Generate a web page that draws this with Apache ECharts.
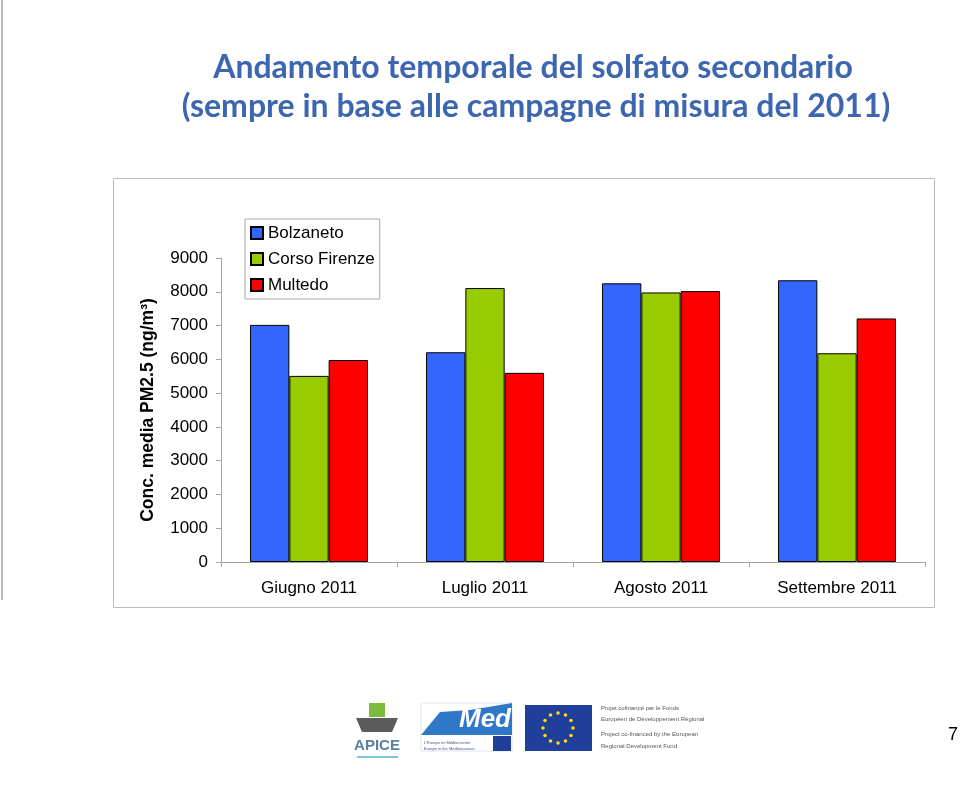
<!DOCTYPE html>
<html>
<head>
<meta charset="utf-8">
<script src="https://cdn.jsdelivr.net/npm/echarts@6/dist/echarts.min.js"></script>
<style>
html,body{margin:0;padding:0;background:#fff;}
#chart{width:960px;height:787px;}
</style>
</head>
<body>
<div id="chart"></div>
<script>
const titleLines = ['Andamento temporale del solfato secondario', '(sempre in base alle campagne di misura del 2011)'];
const categories = ['Giugno 2011', 'Luglio 2011', 'Agosto 2011', 'Settembre 2011'];
const seriesNames = ['Bolzaneto', 'Corso Firenze', 'Multedo'];
const bolzaneto = [7020, 6210, 8250, 8340];
const corsoFirenze = [5510, 8110, 7980, 6180];
const multedo = [5980, 5600, 8020, 7210];
const seriesColors = ['#3366ff', '#99cc00', '#ff0000'];
const yAxisName = 'Conc. media PM2.5 (ng/m\u00B3)';
const yMin = 0, yMax = 9000, yStep = 1000;
const pageNumber = '7';

const chart = echarts.init(document.getElementById('chart'));
const dataSets = [bolzaneto, corsoFirenze, multedo];

// EU flag stars
const stars = [];
for (let i = 0; i < 12; i++) {
  const a = i / 12 * Math.PI * 2;
  stars.push({type:'circle', shape:{cx:558 + 15*Math.cos(a), cy:728 + 15*Math.sin(a), r:1.8}, style:{fill:'#ffdd00'}});
}

const font = '"Liberation Sans", Arial';

chart.setOption({
  animation: false,
  backgroundColor: '#fff',
  graphic: [
    {type:'line', shape:{x1:2, y1:0, x2:2, y2:600}, style:{stroke:'#a0a0a0', lineWidth:1.5}},
    {type:'rect', shape:{x:113.5, y:178.5, width:821, height:429}, style:{fill:'none', stroke:'#bdbdbd', lineWidth:1}, z:-1},
    {type:'text', x:533, y:68, style:{text:titleLines[0], font:'bold 32px Lato', fill:'#3d66b0', align:'center', verticalAlign:'middle'}},
    {type:'text', x:536, y:107, style:{text:titleLines[1], font:'bold 32px Lato', fill:'#3d66b0', align:'center', verticalAlign:'middle'}},
    // APICE logo
    {type:'rect', shape:{x:369, y:703, width:16, height:14}, style:{fill:'#7dbb3c'}},
    {type:'polygon', shape:{points:[[356,718],[398,718],[392,732],[362,732]]}, style:{fill:'#5b5b5b'}},
    {type:'text', x:377, y:746, style:{text:'APICE', font:'bold 15px "Liberation Sans Narrow", "Liberation Sans"', fill:'#5a7fa0', align:'center', verticalAlign:'middle'}},
    {type:'line', shape:{x1:357, y1:757, x2:398, y2:757}, style:{stroke:'#7fc4d8', lineWidth:2}},
    // Med logo
    {type:'rect', shape:{x:421, y:703, width:91, height:48}, style:{fill:'#ffffff', stroke:'#dde7f2', lineWidth:1}},
    {type:'polygon', shape:{points:[[421,735],[440,712],[470,710],[512,703],[512,735]]}, style:{fill:'#2f78c8'}},
    {type:'text', x:485, y:720, style:{text:'Med', font:'italic bold 26px "Liberation Sans"', fill:'#ffffff', align:'center', verticalAlign:'middle'}},
    {type:'rect', shape:{x:493, y:736, width:18, height:15}, style:{fill:'#1f3f9a'}},
    {type:'text', x:424, y:741, style:{text:"L'Europe en Méditerranée", font:'4px "Liberation Sans"', fill:'#3a5a8a'}},
    {type:'text', x:424, y:747, style:{text:'Europe in the Mediterranean', font:'4px "Liberation Sans"', fill:'#3a5a8a'}},
    // EU flag
    {type:'rect', shape:{x:525, y:705, width:67, height:46}, style:{fill:'#1f3f9a'}},
    ...stars,
    {type:'text', x:601, y:705, style:{text:'Projet cofinancé par le Fonds', font:'6px "Liberation Sans Narrow", "Liberation Sans"', fill:'#555'}},
    {type:'text', x:601, y:716, style:{text:'Européen de Développement Régional', font:'6px "Liberation Sans Narrow", "Liberation Sans"', fill:'#555'}},
    {type:'text', x:601, y:731, style:{text:'Project co-financed by the European', font:'6px "Liberation Sans Narrow", "Liberation Sans"', fill:'#555'}},
    {type:'text', x:601, y:743, style:{text:'Regional Development Fund', font:'6px "Liberation Sans Narrow", "Liberation Sans"', fill:'#555'}},
    {type:'text', x:953, y:735, style:{text:pageNumber, font:'18px "Liberation Sans"', fill:'#000', align:'center', verticalAlign:'middle'}}
  ],
  legend: {
    orient: 'vertical',
    left: 245, top: 219,
    padding: [5, 5, 5, 5],
    itemWidth: 12, itemHeight: 12,
    itemGap: 8,
    borderColor: '#a6a6a6', borderWidth: 1,
    backgroundColor: '#fff',
    icon: 'rect',
    textStyle: {fontSize: 17, fontFamily: font, color: '#000', lineHeight: 18},
    data: seriesNames
  },
  grid: {left: 221, right: 35, top: 258, bottom: 225},
  xAxis: {
    type: 'category',
    data: categories,
    axisLine: {lineStyle: {color: '#a6a6a6', width: 1}},
    axisTick: {show: true, length: 5, lineStyle: {color: '#a6a6a6'}},
    axisLabel: {fontSize: 17, fontFamily: font, color: '#000', margin: 18}
  },
  yAxis: {
    type: 'value',
    min: yMin, max: yMax, interval: yStep,
    name: yAxisName,
    nameLocation: 'middle',
    nameRotate: 90,
    nameGap: 64,
    nameTextStyle: {fontSize: 17.5, fontWeight: 'bold', fontFamily: font, color: '#000'},
    axisLine: {show: true, lineStyle: {color: '#a6a6a6', width: 1}},
    axisTick: {show: true, length: 5, lineStyle: {color: '#a6a6a6'}},
    splitLine: {show: false},
    axisLabel: {fontSize: 17, fontFamily: font, color: '#000', margin: 13, formatter: v => String(v)}
  },
  series: seriesNames.map((n, i) => ({
    name: n,
    type: 'bar',
    data: dataSets[i],
    barGap: '0%',
    barCategoryGap: '33%',
    itemStyle: {color: seriesColors[i], borderColor: '#000', borderWidth: 1}
  }))
});
</script>
</body>
</html>
